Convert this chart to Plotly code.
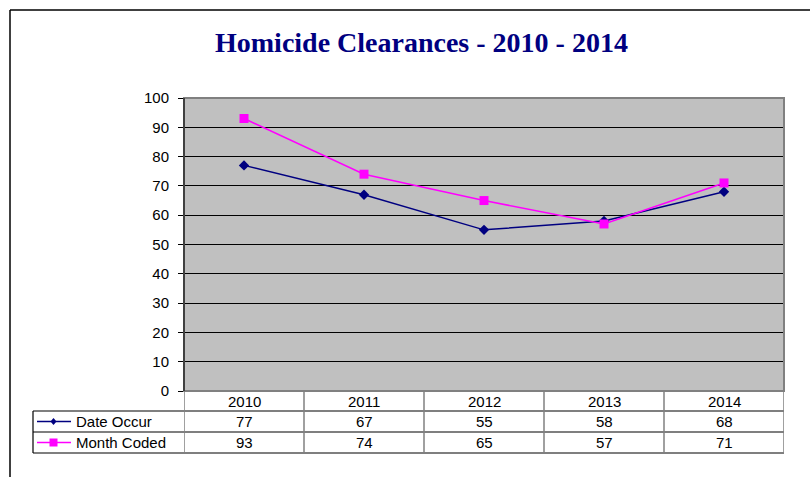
import plotly.graph_objects as go

years = ["2010", "2011", "2012", "2013", "2014"]
date_occur = [77, 67, 55, 58, 68]
month_coded = [93, 74, 65, 57, 71]
series_names = ["Date Occur", "Month Coded"]
y_ticks = [0, 10, 20, 30, 40, 50, 60, 70, 80, 90, 100]
title_text = "Homicide Clearances - 2010 - 2014"

NAVY = "#000080"
MAGENTA = "#FF00FF"
FONT = "Liberation Sans, Arial"

W_PX, H_PX = 810, 477
L, R, T, B = 184, 784, 98, 391
PW, PH = R - L, B - T


def px(x):
    return (x - L) / PW


def py(y):
    return (B - y) / PH


xs = list(range(len(years)))

fig = go.Figure()
fig.add_trace(go.Scatter(x=xs, y=date_occur, mode="lines+markers", name=series_names[0],
                         line=dict(color=NAVY, width=1.5),
                         marker=dict(symbol="diamond", size=8, color=NAVY)))
fig.add_trace(go.Scatter(x=xs, y=month_coded, mode="lines+markers", name=series_names[1],
                         line=dict(color=MAGENTA, width=1.5),
                         marker=dict(symbol="square", size=9, color=MAGENTA)))

shapes = []
annotations = []

# outer chart frame (top & left visible)
shapes.append(dict(type="line", xref="paper", yref="paper", x0=px(10), y0=py(10), x1=px(812), y1=py(10),
                   line=dict(color="black", width=1.5)))
shapes.append(dict(type="line", xref="paper", yref="paper", x0=px(10), y0=py(10), x1=px(10), y1=py(480),
                   line=dict(color="black", width=1.5)))

# plot-area frame (gray)
shapes.append(dict(type="rect", xref="paper", yref="paper", x0=0, y0=0, x1=1, y1=1,
                   line=dict(color="#808080", width=2), layer="above"))
shapes.append(dict(type="line", xref="paper", yref="paper", x0=0, y0=0, x1=0, y1=1,
                   line=dict(color="black", width=1), layer="above"))

# data table
GRID = "#808080"
row_y = [391, 411, 432, 453]
for yy in row_y[1:]:
    shapes.append(dict(type="line", xref="paper", yref="paper", x0=px(33), y0=py(yy), x1=1, y1=py(yy),
                       line=dict(color="black", width=1.2)))
shapes.append(dict(type="line", xref="paper", yref="paper", x0=px(33), y0=py(row_y[1]), x1=px(33),
                   y1=py(row_y[3]), line=dict(color="black", width=1.2)))
for i in range(len(years) + 1):
    xv = i - 0.5
    shapes.append(dict(type="line", xref="x", yref="paper", x0=xv, y0=py(row_y[0]), x1=xv, y1=py(row_y[3]),
                       line=dict(color=GRID, width=1.5)))

row_vals = [date_occur, month_coded]
row_centers = [(row_y[1] + row_y[2]) / 2, (row_y[2] + row_y[3]) / 2]
head_center = (row_y[0] + row_y[1]) / 2
for i, yr in enumerate(years):
    annotations.append(dict(x=i, y=py(head_center), xref="x", yref="paper", text=yr, showarrow=False,
                            yanchor="middle", font=dict(family=FONT, size=15, color="black")))
    for vals, yc in zip(row_vals, row_centers):
        annotations.append(dict(x=i, y=py(yc), xref="x", yref="paper", text=str(vals[i]), showarrow=False,
                                yanchor="middle", font=dict(family=FONT, size=15, color="black")))

# legend keys in table
colors = [NAVY, MAGENTA]
for name, col, yc, sym in zip(series_names, colors, row_centers, ["diamond", "square"]):
    shapes.append(dict(type="line", xref="paper", yref="paper", x0=px(37), y0=py(yc), x1=px(71), y1=py(yc),
                       line=dict(color=col, width=1.5)))
    cx = 53.5
    if sym == "square":
        shapes.append(dict(type="rect", xref="paper", yref="paper", x0=px(cx - 4), y0=py(yc - 4),
                           x1=px(cx + 4), y1=py(yc + 4), fillcolor=col, line=dict(width=0)))
    else:
        path = "M {} {} L {} {} L {} {} L {} {} Z".format(
            px(cx), py(yc - 3.5), px(cx + 3), py(yc), px(cx), py(yc + 3.5), px(cx - 3), py(yc))
        shapes.append(dict(type="path", xref="paper", yref="paper", path=path, fillcolor=col,
                           line=dict(width=0)))
    annotations.append(dict(x=px(74), y=py(yc), xref="paper", yref="paper", text=name, showarrow=False,
                            xanchor="left", yanchor="middle", font=dict(family=FONT, size=15, color="black")))

# title
annotations.append(dict(x=px(421), y=py(42), xref="paper", yref="paper", text="<b>" + title_text + "</b>",
                        showarrow=False, xanchor="center", yanchor="middle",
                        font=dict(family="Liberation Serif, Times New Roman", size=28, color=NAVY)))

fig.update_layout(
    width=W_PX, height=H_PX,
    margin=dict(l=L, r=W_PX - R, t=T, b=H_PX - B, pad=0),
    paper_bgcolor="white",
    plot_bgcolor="#C0C0C0",
    showlegend=False,
    shapes=shapes,
    annotations=annotations,
    xaxis=dict(range=[-0.5, len(years) - 0.5], showticklabels=False, showgrid=False, zeroline=False,
               ticks="", fixedrange=True),
    yaxis=dict(range=[0, 100], tickvals=y_ticks, ticks="outside", ticklen=5, tickcolor="black",
               showline=False, showgrid=True, gridcolor="black", gridwidth=1,
               zeroline=False, ticklabelstandoff=6,
               tickfont=dict(family=FONT, size=15, color="black")),
)

fig.write_html("out.html", config={"displayModeBar": False},
               post_script="document.body.style.margin='0px';")
